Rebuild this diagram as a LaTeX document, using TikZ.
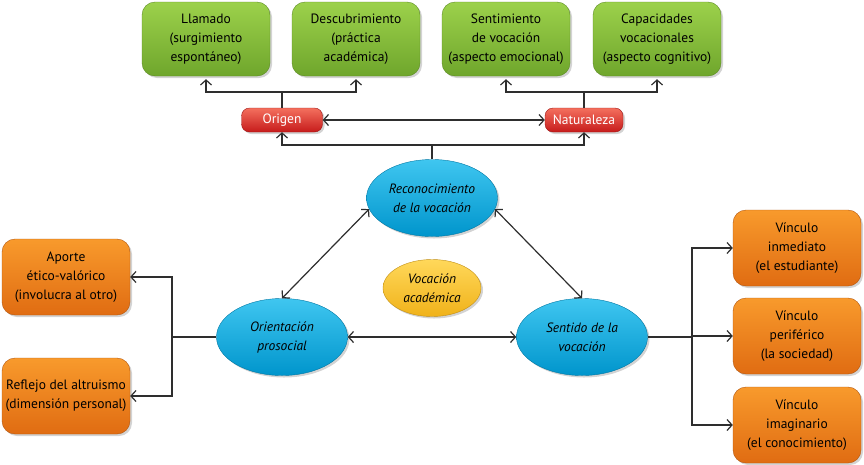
\documentclass[tikz,border=0pt]{standalone}
\usepackage{fontspec}
\setmainfont{PT Sans}
\usetikzlibrary{shapes.geometric}
\usetikzlibrary{positioning,calc,shadows,arrows.meta}

\definecolor{grtop}{HTML}{9CD14B}
\definecolor{grbot}{HTML}{6FA62C}
\definecolor{grline}{HTML}{5B8A22}
\definecolor{rdtop}{HTML}{F4705E}
\definecolor{rdbot}{HTML}{C61B1B}
\definecolor{ortop}{HTML}{F89A2C}
\definecolor{orbot}{HTML}{E06C12}
\definecolor{bltop}{HTML}{3FC6F0}
\definecolor{blbot}{HTML}{0095CC}
\definecolor{yltop}{HTML}{FFD85A}
\definecolor{ylbot}{HTML}{F0B21A}
\definecolor{lnk}{HTML}{2E2E2E}

\begin{document}
\begin{tikzpicture}[x=1pt,y=-1pt,>={Straight Barb[length=5pt,width=11pt,line width=1.2pt]}]
\useasboundingbox (0,0) rectangle (864,464);

\tikzstyle{shade}=[drop shadow={opacity=0.35,shadow xshift=2pt,shadow yshift=-2pt}]
\tikzstyle{greenbox}=[shade,draw=grline,thin,rounded corners=13pt,top color=grtop,bottom color=grbot,minimum width=128pt,minimum height=74pt,inner sep=2pt,align=center,font=\fontsize{13.5}{19}\selectfont]
\tikzstyle{orangebox}=[shade,draw=orbot!80!black,thin,rounded corners=13pt,top color=ortop,bottom color=orbot,minimum width=128pt,minimum height=76pt,inner sep=2pt,align=center,font=\fontsize{13.5}{19}\selectfont]
\tikzstyle{redbox}=[shade,draw=rdbot!80!black,thin,rounded corners=8pt,top color=rdtop,bottom color=rdbot,minimum height=24pt,inner sep=3pt,text=white,font=\fontsize{13.5}{15}\selectfont]
\tikzstyle{blueball}=[shade,ellipse,draw=blbot!80!black,thin,top color=bltop,bottom color=blbot,minimum width=131pt,minimum height=77pt,inner sep=0pt,align=center,font=\fontsize{13.5}{19}\selectfont\itshape]
\tikzstyle{tree}=[draw=lnk,line width=1.8pt]
\tikzstyle{link}=[draw=lnk,line width=1.2pt]

%top row
\node (llam) [greenbox] at (206,39) {Llamado\\(surgimiento\\espontáneo)};
\node (desc) [greenbox] at (356,39) {Descubrimiento\\(práctica\\académica)};
\node (sent) [greenbox] at (506,39) {Sentimiento\\de vocación\\(aspecto emocional)};
\node (capa) [greenbox] at (657,39) {Capacidades\\vocacionales\\(aspecto cognitivo)};

\node (orig) [redbox,minimum width=81pt] at (282,120) {Origen};
\node (natu) [redbox,minimum width=78pt] at (584,120) {Naturaleza};

%ellipses
\node (reco) [blueball] at (432,198) {Reconocimiento\\de la vocación};
\node (orie) [blueball] at (282,337) {Orientación\\prosocial};
\node (sdvo) [blueball] at (582,337) {Sentido de la\\vocación};
\node (voac) [shade,ellipse,draw=ylbot!80!black,thin,top color=yltop,bottom color=ylbot,minimum width=98pt,minimum height=57pt,inner sep=0pt,align=center,font=\fontsize{13.5}{19}\selectfont\itshape] at (432,288) {Vocación\\académica};

%side boxes
\node (apor) [orangebox] at (66,277) {Aporte\\ético-valórico\\(involucra al otro)};
\node (refl) [orangebox] at (66,396) {Reflejo del altruismo\\(dimensión personal)};
\node (vin1) [orangebox] at (797,248) {Vínculo\\inmediato\\(el estudiante)};
\node (vin2) [orangebox] at (797,336) {Vínculo\\periférico\\(la sociedad)};
\node (vin3) [orangebox] at (797,425) {Vínculo\\imaginario\\(el conocimiento)};

%upper tree
\coordinate (origup) at ($(orig.north)+(0,-16)$);
\coordinate (natuup) at ($(natu.north)+(0,-16)$);
\coordinate (recoup) at ($(reco.north)+(0,-14)$);
\draw [tree] (orig.north) -- (origup);
\draw [tree,->,shorten >=3pt] (origup) -| (llam.south);
\draw [tree,->,shorten >=3pt] (origup) -| (desc.south);
\draw [tree] (natu.north) -- (natuup);
\draw [tree,->,shorten >=3pt] (natuup) -| (sent.south);
\draw [tree,->,shorten >=3pt] (natuup) -| (capa.south);
\draw [tree] (reco.north) -- (recoup);
\draw [tree,->] (recoup) -| (orig.south);
\draw [tree,->] (recoup) -| (natu.south);
\draw [link,<->] (orig.east) -- (natu.west);

%triangle
\draw [link,<->] (reco.190) -- (orie.north);
\draw [link,<->] (reco.-10) -- (sdvo.north);
\draw [link,<->] (orie.east) -- (sdvo.west);

%side branches
\coordinate (leftfork) at ($(orie.west)+(-44,0)$);
\draw [tree] (orie.west) -- (leftfork);
\draw [tree,->] (leftfork) |- (apor.east);
\draw [tree,->] (leftfork) |- (refl.east);
\coordinate (rightfork) at ($(sdvo.east)+(44,0)$);
\draw [tree] (sdvo.east) -- (rightfork);
\draw [tree,->] (rightfork) |- (vin1.west);
\draw [tree,->] (rightfork) |- (vin2.west);
\draw [tree,->] (rightfork) |- (vin3.west);
\end{tikzpicture}
\end{document}
